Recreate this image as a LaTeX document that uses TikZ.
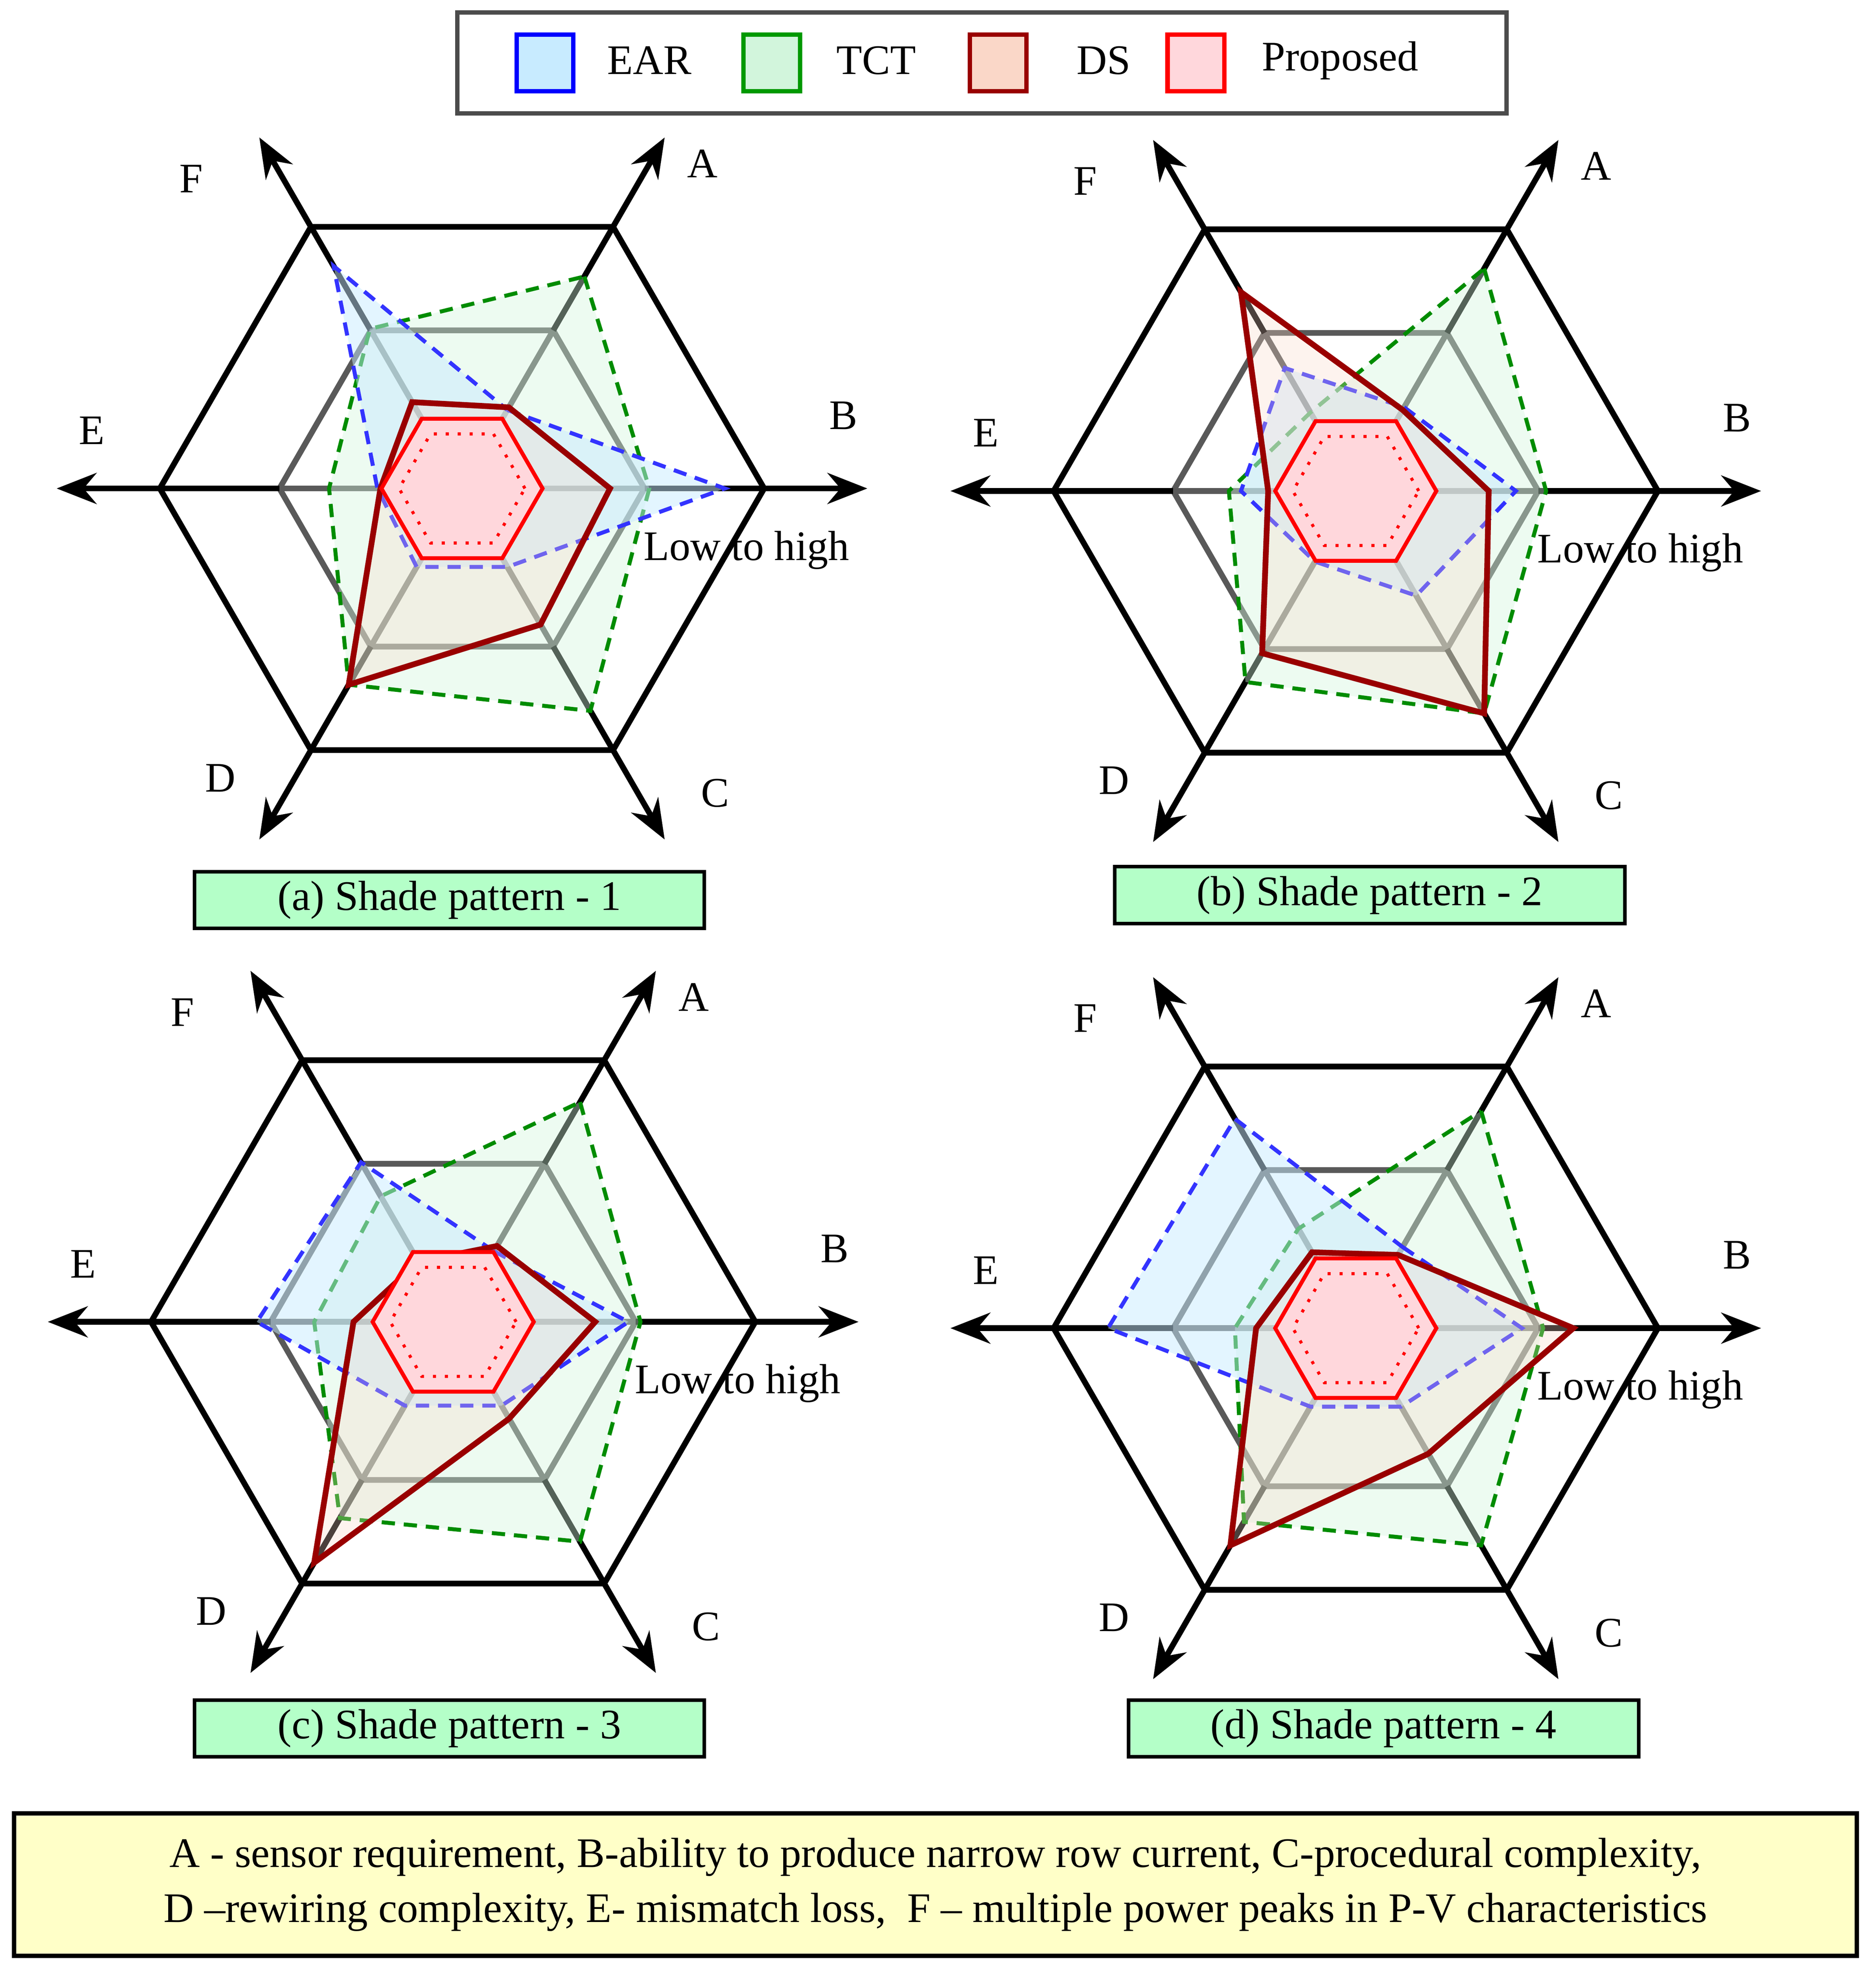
\documentclass[tikz,border=0pt]{standalone}
\usepackage{fontspec}
\setmainfont{Liberation Serif}
\usetikzlibrary{arrows.meta}
\definecolor{earf}{RGB}{200,235,255}
\definecolor{tctf}{RGB}{210,245,220}
\definecolor{dsf}{RGB}{250,215,200}
\definecolor{prf}{RGB}{255,215,220}
\definecolor{capf}{RGB}{180,255,200}
\definecolor{notef}{RGB}{255,255,200}
\tikzset{
 ax/.style={line width=1.3pt,-{Stealth[length=9pt,width=7pt]}},
 hexo/.style={line width=1.3pt},
 hexm/.style={line width=1.3pt,gray!70!black},
 ear/.style={blue!80,line width=0.9pt,dash pattern=on 3pt off 2pt,fill=earf,fill opacity=0.5,draw opacity=1},
 tct/.style={green!55!black,line width=0.9pt,dash pattern=on 3pt off 2pt,fill=tctf,fill opacity=0.4,draw opacity=1},
 ds/.style={red!60!black,line width=1.3pt,fill=dsf,fill opacity=0.3,draw opacity=1},
 pr/.style={red,line width=0.9pt,fill=prf},
 prd/.style={red,line width=0.7pt,dotted},
 lab/.style={font=\fontsize{9.5}{11}\selectfont},
 capbox/.style={draw,line width=0.8pt,fill=capf,minimum width=4.05cm,minimum height=0.45cm,inner sep=0pt,font=\fontsize{9.5}{11}\selectfont},
 lg/.style={draw,line width=1pt,minimum width=0.45cm,minimum height=0.45cm,inner sep=0pt}
}
\newcommand\rdr[7]{\draw[#1] (60:{240*#2}) -- (0:{240*#3}) -- (-60:{240*#4}) -- (-120:{240*#5}) -- (180:{240*#6}) -- (120:{240*#7}) -- cycle;}
\newcommand\hexa[2]{\draw[#1] (0:#2) -- (60:#2) -- (120:#2) -- (180:#2) -- (240:#2) -- (300:#2) -- cycle;}
\newcommand\radarframe{%
 \foreach \a in {0,60,...,300}{\draw[hexm] (0,0) -- (\a:145);}
 \hexa{hexm}{145}
 \foreach \a in {0,60,...,300}{\draw[ax] (\a:145) -- (\a:322);}
 \hexa{hexo}{240}
}
\newcommand\radarlabels{%
 \node[lab] at (191,258) {A};
 \node[lab] at (303,58) {B};
 \node[lab] at (201,-242) {C};
 \node[lab] at (-192,-230) {D};
 \node[lab] at (-294,46) {E};
 \node[lab] at (-215,246) {F};
 \node[lab] at (226,-49) {Low to high};
}
\newcommand\prop{\hexa{pr}{64}\hexa{prd}{50}}
\begin{document}
\begin{tikzpicture}[x=0.01cm,y=0.01cm]
\useasboundingbox (0,0) rectangle (1490,-1572);
% legend
\node[draw,line width=1pt,gray!60!black,minimum width=8.33cm,minimum height=0.8cm] (leg) at (780,-50) {};
\node[lg,draw=blue,fill=earf] (l1) at (433,-50) {};
\node[lab,anchor=west] (t1) at (470,-48) {EAR};
\node[lg,draw=green!60!black,fill=tctf] (l2) at (613,-50) {};
\node[lab,anchor=west] (t2) at (652,-48) {TCT};
\node[lg,draw=red!60!black,fill=dsf] (l3) at (793,-50) {};
\node[lab,anchor=west] (t3) at (843,-48) {DS};
\node[lg,draw=red,fill=prf] (l4) at (950,-50) {};
\node[lab,anchor=west] (t4) at (990,-48) {Proposed};
% panel a
\begin{scope}[shift={(367,-388)}]
\radarframe
\rdr{tct}{0.81}{0.62}{0.85}{0.75}{0.44}{0.61}
\rdr{ear}{0.3}{0.87}{0.3}{0.3}{0.28}{0.85}
\rdr{ds}{0.31}{0.49}{0.52}{0.75}{0.27}{0.33}
\prop
\radarlabels
\end{scope}
\node[capbox] (ca) at (357,-715) {(a) Shade pattern - 1};
% panel b
\begin{scope}[shift={(1077,-390)}]
\radarframe
\rdr{tct}{0.85}{0.63}{0.85}{0.73}{0.42}{0.3}
\rdr{ear}{0.32}{0.53}{0.4}{0.27}{0.38}{0.47}
\rdr{ds}{0.31}{0.44}{0.85}{0.62}{0.29}{0.76}
\prop
\radarlabels
\end{scope}
\node[capbox] (cb) at (1088,-711) {(b) Shade pattern - 2};
% panel c
\begin{scope}[shift={(360,-1050)}]
\radarframe
\rdr{tct}{0.84}{0.62}{0.84}{0.75}{0.46}{0.48}
\rdr{ear}{0.27}{0.58}{0.32}{0.32}{0.65}{0.61}
\rdr{ds}{0.29}{0.47}{0.37}{0.92}{0.33}{0.23}
\prop
\radarlabels
\end{scope}
\node[capbox] (cc) at (357,-1373) {(c) Shade pattern - 3};
% panel d
\begin{scope}[shift={(1077,-1055)}]
\radarframe
\rdr{tct}{0.83}{0.62}{0.83}{0.74}{0.4}{0.38}
\rdr{ear}{0.31}{0.55}{0.3}{0.3}{0.82}{0.8}
\rdr{ds}{0.28}{0.72}{0.48}{0.83}{0.33}{0.29}
\prop
\radarlabels
\end{scope}
\node[capbox] (cd) at (1099,-1373) {(d) Shade pattern - 4};
% note
\node[draw,line width=1pt,fill=notef,minimum width=14.63cm,minimum height=1.13cm,align=center,font=\fontsize{9.5}{12.5}\selectfont] (note) at (743,-1497) {A - sensor requirement, B-ability to produce narrow row current, C-procedural complexity,\\ D --rewiring complexity, E- mismatch loss,\ \ F -- multiple power peaks in P-V characteristics};
\end{tikzpicture}
\end{document}
